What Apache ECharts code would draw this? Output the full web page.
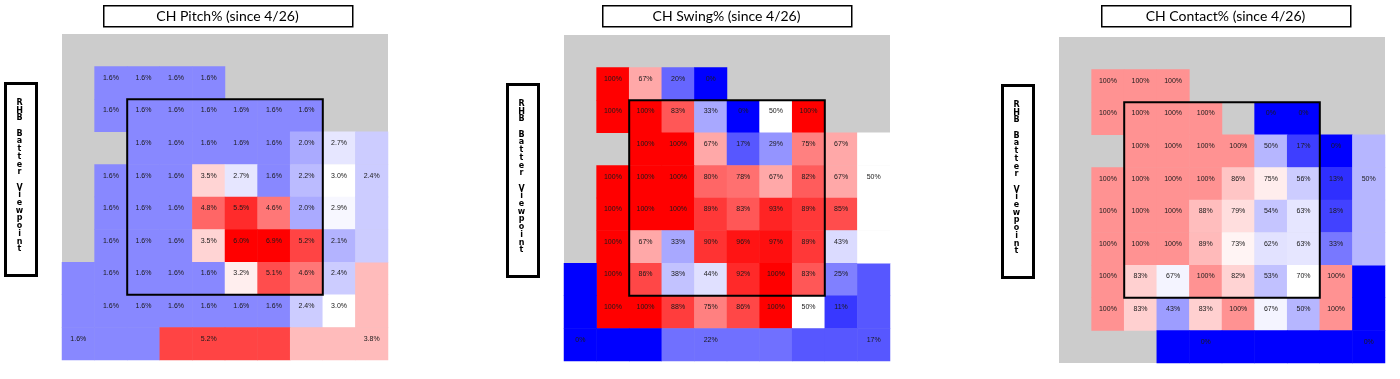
<!DOCTYPE html>
<html><head><meta charset="utf-8">
<script src="https://cdn.jsdelivr.net/npm/echarts@6/dist/echarts.min.js"></script>
<style>html,body{margin:0;padding:0;background:#fff}#c{width:1400px;height:379px}</style>
</head><body><div id="c"></div><script>
// ---- data ----
const colCats = ['0','1','2','3','4','5','6','7','8','9'];
const rowCats = ['0','1','2','3','4','5','6','7','8','9'];
const titles = ['CH Pitch% (since 4/26)', 'CH Swing% (since 4/26)', 'CH Contact% (since 4/26)'];
const sideLabel = 'RHB Batter Viewpoint';

// inner 8x8 cells (rows 1..8, cols 1..8); null = no data (grey)
const pitchInner = [
  [1.6,1.6,1.6,1.6,null,null,null,null],
  [1.6,1.6,1.6,1.6,1.6,1.6,1.6,null],
  [null,1.6,1.6,1.6,1.6,1.6,2.0,2.7],
  [1.6,1.6,1.6,3.5,2.7,1.6,2.2,3.0],
  [1.6,1.6,1.6,4.8,5.5,4.6,2.0,2.9],
  [1.6,1.6,1.6,3.5,6.0,6.9,5.2,2.1],
  [1.6,1.6,1.6,1.6,3.2,5.1,4.6,2.4],
  [1.6,1.6,1.6,1.6,1.6,1.6,2.4,3.0]
];
const swingInner = [
  [100,67,20,0,null,null,null,null],
  [100,100,83,33,0,50,100,null],
  [null,100,100,67,17,29,75,67],
  [100,100,100,80,78,67,82,67],
  [100,100,100,89,83,93,89,85],
  [100,67,33,90,96,97,89,43],
  [100,86,38,44,92,100,83,25],
  [100,100,88,75,86,100,50,11]
];
const contactInner = [
  [100,100,100,null,null,null,null,null],
  [100,100,100,100,null,0,0,null],
  [null,100,100,100,100,50,17,0],
  [100,100,100,100,86,75,56,13],
  [100,100,100,88,79,54,63,18],
  [100,100,100,89,73,62,63,33],
  [100,83,67,100,82,53,70,100],
  [100,83,43,83,100,67,50,100]
];
// outer regions: lowLeft, bottom, lowRight, right
const pitchOuter   = [1.6, 5.2, 3.8, 2.4];
const swingOuter   = [0, 22, 17, 50];
const contactOuter = [null, 0, 0, 50];
// region membership (col,row) and the cell that carries the label
const regionCells = [
  [[0,7],[0,8],[0,9],[1,9],[2,9]],
  [[3,9],[4,9],[5,9],[6,9]],
  [[7,9],[8,9],[9,9],[9,8],[9,7]],
  [[9,3],[9,4],[9,5],[9,6]]
];
const regionLabelCell = [[0,9],[4,9],[9,9],[9,4]];
const zoneCols = [2, 7];
const zoneRows = [2, 7];
const scaleMax = [6, 100, 140];
const decimals = [1, 0, 0];

// ---- build ----
const inners = [pitchInner, swingInner, contactInner];
const outers = [pitchOuter, swingOuter, contactOuter];
const gridLeft = [62, 564, 1059];
const gridTop = [34, 35, 37];
const gridSize = 326;

function buildData(inner, outer) {
  const d = [];
  inner.forEach((row, ri) => row.forEach((v, ci) => {
    if (v !== null) d.push({value: [ci + 1, ri + 1, v]});
  }));
  outer.forEach((v, k) => {
    if (v === null) return;
    regionCells[k].forEach(([c, r]) => {
      const lab = regionLabelCell[k][0] === c && regionLabelCell[k][1] === r;
      d.push({value: [c, r, v], label: {show: lab}});
    });
  });
  return d;
}

const grid = [], xAxis = [], yAxis = [], series = [], visualMap = [], graphic = [];
for (let i = 0; i < 3; i++) {
  grid.push({left: gridLeft[i], top: gridTop[i], width: gridSize, height: gridSize,
    show: true, backgroundColor: '#cccccc', borderWidth: 0});
  xAxis.push({type: 'category', data: colCats, gridIndex: i, show: false});
  yAxis.push({type: 'category', data: rowCats, gridIndex: i, inverse: true, show: false});
  const dec = decimals[i];
  series.push({
    type: 'heatmap', xAxisIndex: i, yAxisIndex: i,
    data: buildData(inners[i], outers[i]),
    itemStyle: {borderWidth: 0},
    label: {show: true, fontSize: 7, color: '#1a1a1a', fontFamily: 'Liberation Sans, Arial',
      offset: [0, -5],
      formatter: p => p.value[2].toFixed(dec) + '%'},
    emphasis: {disabled: true}, animation: false
  });
  visualMap.push({type: 'continuous', show: false, seriesIndex: i * 2, dimension: 2,
    min: 0, max: scaleMax[i], inRange: {color: ['#0000ff', '#ffffff', '#ff0000']}});
  series.push({
    type: 'custom', xAxisIndex: i, yAxisIndex: i, silent: true, z: 10, clip: false,
    data: [[zoneCols[0], zoneRows[0], zoneCols[1], zoneRows[1]]],
    encode: {x: [0, 2], y: [1, 3]},
    renderItem: (params, api) => {
      const p1 = api.coord([api.value(0), api.value(1)]);
      const p2 = api.coord([api.value(2), api.value(3)]);
      const s = api.size([1, 1]);
      return {type: 'rect',
        shape: {x: p1[0] - s[0] / 2, y: p1[1] - s[1] / 2,
          width: p2[0] - p1[0] + s[0], height: p2[1] - p1[1] + s[1]},
        style: {fill: null, stroke: '#000', lineWidth: 2}};
    }, animation: false
  });
}

const titleX = [103, 602, 1101];
const sideX = [4, 506, 1001];
const sideY = [82, 83, 84];
for (let i = 0; i < 3; i++) {
  graphic.push({type: 'rect', left: titleX[i], top: 5, shape: {width: 249, height: 21},
    style: {fill: '#fff', stroke: '#000', lineWidth: 1.5}});
  graphic.push({type: 'text', x: titleX[i] + 124.5, y: 16,
    style: {text: titles[i], font: '14px Lato', fill: '#000', align: 'center', verticalAlign: 'middle'}});
  graphic.push({type: 'rect', left: sideX[i], top: sideY[i], shape: {width: 31, height: 192},
    style: {fill: '#fff', stroke: '#000', lineWidth: 3}});
  graphic.push({type: 'text', x: sideX[i] + 15.5, y: sideY[i] + 94,
    style: {text: sideLabel.split('').join('\n'), font: 'bold 8px DejaVu Sans', lineHeight: 7.7,
      fill: '#000', align: 'center', verticalAlign: 'middle'}});
}

const chart = echarts.init(document.getElementById('c'), null, {renderer: 'canvas'});
chart.setOption({animation: false, grid, xAxis, yAxis, visualMap, series, graphic});
</script></body></html>
